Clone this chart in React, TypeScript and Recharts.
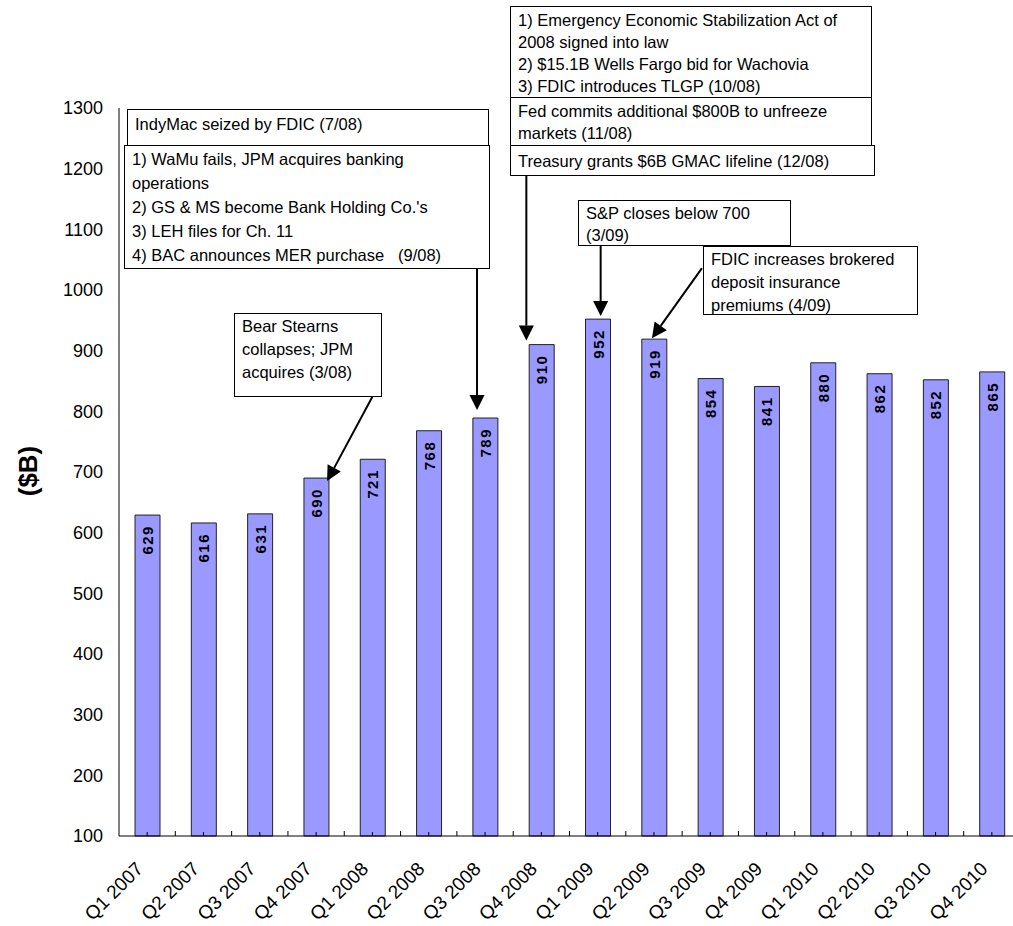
import { BarChart, Bar, XAxis, YAxis, LabelList, ReferenceDot } from "recharts";

const quarters = [
  "Q1 2007", "Q2 2007", "Q3 2007", "Q4 2007",
  "Q1 2008", "Q2 2008", "Q3 2008", "Q4 2008",
  "Q1 2009", "Q2 2009", "Q3 2009", "Q4 2009",
  "Q1 2010", "Q2 2010", "Q3 2010", "Q4 2010",
];
const totals = [629, 616, 631, 690, 721, 768, 789, 910, 952, 919, 854, 841, 880, 862, 852, 865];
const yTicks = [100, 200, 300, 400, 500, 600, 700, 800, 900, 1000, 1100, 1200, 1300];

const indyMacNote = ["IndyMac seized by FDIC (7/08)"];
const septemberNote = [
  "1) WaMu fails, JPM acquires banking",
  "operations",
  "2) GS & MS become Bank Holding Co.'s",
  "3) LEH files for Ch. 11",
  "4) BAC announces MER purchase   (9/08)",
];
const bearNote = ["Bear Stearns", "collapses; JPM", "acquires (3/08)"];
const octoberNote = [
  "1) Emergency Economic Stabilization Act of",
  "2008 signed into law",
  "2) $15.1B Wells Fargo bid for Wachovia",
  "3) FDIC introduces TLGP (10/08)",
];
const novemberNote = ["Fed commits additional $800B to unfreeze", "markets (11/08)"];
const decemberNote = ["Treasury grants $6B GMAC lifeline (12/08)"];
const spNote = ["S&P closes below 700", "(3/09)"];
const brokeredNote = ["FDIC increases brokered", "deposit insurance", "premiums (4/09)"];

const rows = quarters.map((quarter, i) => ({ quarter, total: totals[i] }));

const FONT = '"Liberation Sans", Arial, Helvetica, sans-serif';

// callout boxes, page pixels
const boxes = [
  { lines: indyMacNote, left: 127, top: 109, width: 362, height: 37, lh: 22, pad: 3 },
  { lines: septemberNote, left: 124, top: 145, width: 366, height: 124, lh: 24, pad: 1 },
  { lines: bearNote, left: 234, top: 313, width: 148, height: 84, lh: 23, pad: 1 },
  { lines: octoberNote, left: 510, top: 6, width: 362, height: 92, lh: 22, pad: 2 },
  { lines: novemberNote, left: 510, top: 97, width: 362, height: 49, lh: 22, pad: 2 },
  { lines: decemberNote, left: 510, top: 145, width: 365, height: 31, lh: 22, pad: 4 },
  { lines: spNote, left: 578, top: 200, width: 213, height: 46, lh: 22, pad: 1 },
  { lines: brokeredNote, left: 703, top: 246, width: 215, height: 69, lh: 23, pad: 1 },
];

// arrows: tip and tail are offsets from the top centre of the quarter's bar
const arrows = [
  { quarter: "Q4 2007", tip: [11, 3], tail: [61, -90] },
  { quarter: "Q3 2008", tip: [-8, -8], tail: [-8, -150] },
  { quarter: "Q4 2008", tip: [-15, -4], tail: [-15, -170] },
  { quarter: "Q1 2009", tip: [3, -3], tail: [3, -74] },
  { quarter: "Q2 2009", tip: [-2, -1], tail: [48, -71] },
];

function Arrow({ cx, cy, tip, tail }: any) {
  const tx = cx + tip[0];
  const ty = cy + tip[1];
  const sx = cx + tail[0];
  const sy = cy + tail[1];
  const ang = Math.atan2(ty - sy, tx - sx);
  const len = 15;
  const half = 7.5;
  const bx = tx - len * Math.cos(ang);
  const by = ty - len * Math.sin(ang);
  const px = -Math.sin(ang) * half;
  const py = Math.cos(ang) * half;
  return (
    <g>
      <line x1={sx} y1={sy} x2={bx} y2={by} stroke="#000" strokeWidth={2} />
      <polygon points={`${tx},${ty} ${bx + px},${by + py} ${bx - px},${by - py}`} fill="#000" />
    </g>
  );
}

function QuarterTick({ x, y, payload }: any) {
  const half = payload?.offset || 28.15;
  return (
    <g>
      <line x1={x} x2={x} y1={y} y2={y - 4} stroke="#000" />
      <line x1={x + half} x2={x + half} y1={y} y2={y - 5} stroke="#000" />
      <text
        transform={`translate(${x - 3},${y + 34}) rotate(-45)`}
        textAnchor="end"
        fontSize={19}
        fontFamily={FONT}
        fill="#000"
      >
        {payload.value}
      </text>
    </g>
  );
}

function renderValueLabel(props: any) {
  const { x, y, width, value } = props;
  const cx = x + width / 2;
  const top = y + 10;
  return (
    <text
      transform={`translate(${cx},${top}) rotate(-90)`}
      textAnchor="end"
      dominantBaseline="central"
      fontSize={15}
      fontWeight="bold"
      letterSpacing={1.5}
      fontFamily={FONT}
      fill="#000"
    >
      {value}
    </text>
  );
}

export default function App() {
  return (
    <div
      style={{
        position: "absolute",
        left: 0,
        top: 0,
        width: 1013,
        height: 926,
        overflow: "hidden",
        background: "#fff",
        fontFamily: FONT,
      }}
    >
      <BarChart width={1030} height={926} data={rows} margin={{ top: 108, right: 10, left: 0, bottom: 30 }}>
        <XAxis
          dataKey="quarter"
          height={60}
          interval={0}
          tickLine={false}
          tickSize={0}
          tickMargin={0}
          axisLine={{ stroke: "#000" }}
          tick={<QuarterTick />}
        />
        <YAxis
          width={119}
          domain={[100, 1300]}
          ticks={yTicks}
          interval={0}
          tickLine={false}
          tickMargin={10}
          axisLine={{ stroke: "#000" }}
          tick={{ fontSize: 18, fill: "#000", fontFamily: FONT }}
          label={{
            content: () => (
              <text
                x={28}
                y={471}
                transform="rotate(-90 28 471)"
                textAnchor="middle"
                dominantBaseline="central"
                fontSize={26}
                fontWeight="bold"
                fontFamily={FONT}
                fill="#000"
              >
                ($B)
              </text>
            ),
          }}
        />
        <Bar dataKey="total" fill="#9999ff" stroke="#222" strokeWidth={1} barSize={25} isAnimationActive={false}>
          <LabelList dataKey="total" content={renderValueLabel} />
        </Bar>
        {arrows.map((a) => (
          <ReferenceDot
            key={a.quarter}
            x={a.quarter}
            y={totals[quarters.indexOf(a.quarter)]}
            r={0}
            shape={(p: any) => <Arrow cx={p.cx} cy={p.cy} tip={a.tip} tail={a.tail} />}
          />
        ))}
      </BarChart>
      {boxes.map((b, i) => (
        <div
          key={i}
          style={{
            position: "absolute",
            left: b.left,
            top: b.top,
            width: b.width,
            height: b.height,
            boxSizing: "border-box",
            border: "1.5px solid #000",
            background: "#fff",
            padding: `${b.pad}px 0 0 7px`,
            fontSize: 16.5,
            lineHeight: `${b.lh}px`,
            color: "#000",
            whiteSpace: "pre",
          }}
        >
          {b.lines.map((l, j) => (
            <div key={j}>{l}</div>
          ))}
        </div>
      ))}
    </div>
  );
}
